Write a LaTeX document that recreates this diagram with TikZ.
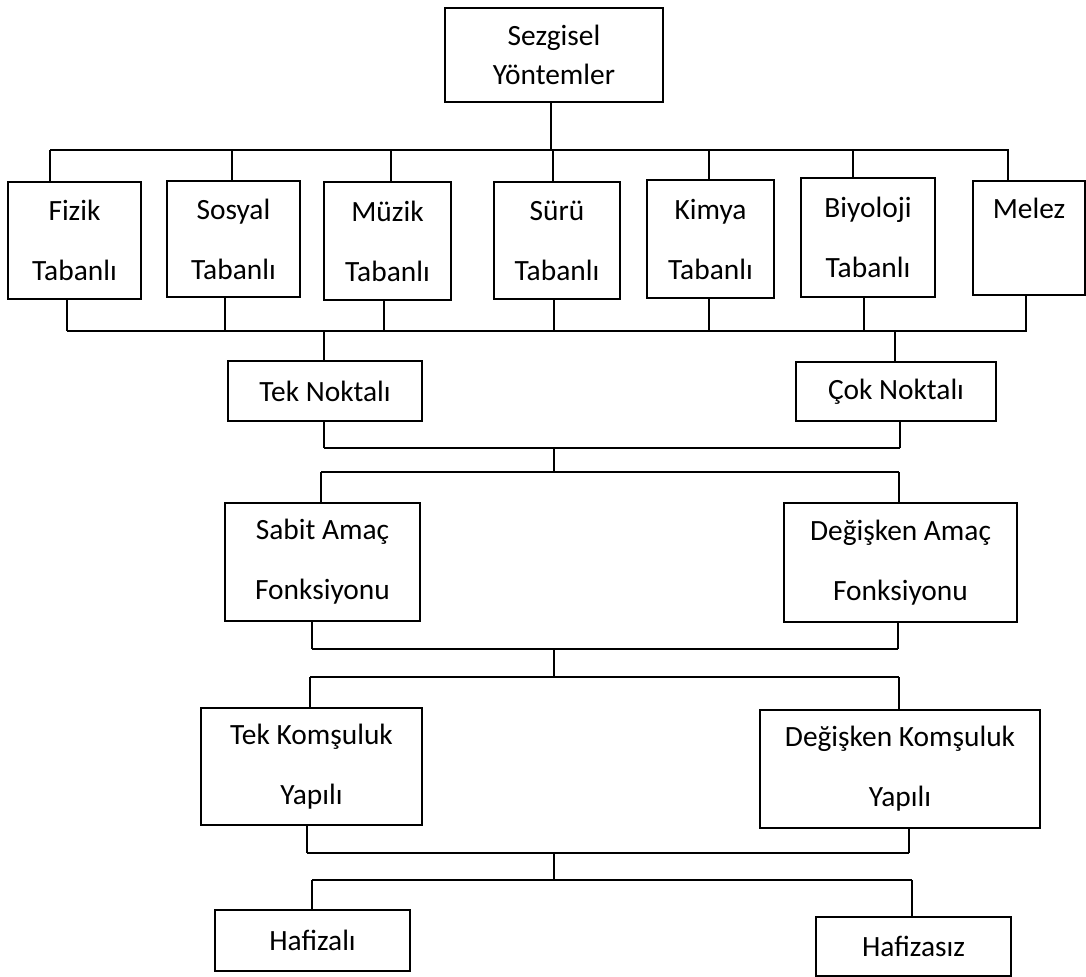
\documentclass[tikz,border=0pt]{standalone}
\usepackage{fontspec}
\setmainfont{Carlito}
\begin{document}
\begin{tikzpicture}[x=0.5pt,y=-0.5pt,
  box/.style={draw,line width=0.9pt,inner sep=0pt,align=center,
    font=\fontsize{14.7}{30}\selectfont},
  sz/.style 2 args={minimum width=#1*0.5pt,minimum height=#2*0.5pt},
  link/.style={line width=0.7pt},
  bar/.style={line width=1.2pt}]
\useasboundingbox (0,0) rectangle (1086,976);

% --- boxes ---
\node[box,sz={218}{94},font=\fontsize{14.7}{19.5}\selectfont]
  (top) at (554,55) {Sezgisel\\Yöntemler};
\node[box,sz={133}{117}] (fizik)    at (74.5,240.5) {Fizik\\Tabanlı};
\node[box,sz={133}{116}] (sosyal)   at (233.5,239)  {Sosyal\\Tabanlı};
\node[box,sz={127}{118}] (muzik)    at (387.5,241)  {Müzik\\Tabanlı};
\node[box,sz={126}{117}] (suru)     at (557,240.5)  {Sürü\\Tabanlı};
\node[box,sz={127}{118}] (kimya)    at (710.5,239)  {Kimya\\Tabanlı};
\node[box,sz={134}{119}] (biyoloji) at (868,237.5)  {Biyoloji\\Tabanlı};
\node[box,sz={112}{114}] (melez)    at (1029,238)   {Melez\\\phantom{Tabanlı}};

\node[box,sz={194}{60}] (tekn) at (325,391)   {Tek Noktalı};
\node[box,sz={200}{59}] (cokn) at (896,391.5) {Çok Noktalı};

\node[box,sz={195}{118}] (sabit)   at (322.5,562) {Sabit Amaç\\Fonksiyonu};
\node[box,sz={233}{119}] (degamac) at (900.5,562.5) {Değişken Amaç\\Fonksiyonu};

\node[box,sz={221}{117}] (tekkom) at (311.5,766.5) {Tek Komşuluk\\Yapılı};
\node[box,sz={280}{118}] (degkom) at (900,769)     {Değişken Komşuluk\\Yapılı};

\node[box,sz={195}{61}] (hafizali)  at (312.5,940.5) {Hafizalı};
\node[box,sz={195}{59}] (hafizasiz) at (913.5,946.5) {Hafizasız};

% --- top level bus ---
\coordinate (a0) at (551,150);
\draw[link] (a0 |- top.south) -- (a0);
\draw[bar] (50,150) -- (1009,150);
\foreach \x/\n in {50/fizik,232/sosyal,391/muzik,553/suru,709/kimya,853/biyoloji,1008/melez}
  \draw[link] (\x,150) -- ({\x},0 |- \n.north);

% --- gathering bus below the families ---
\draw[bar] (67,331) -- (1027,331);
\foreach \x/\n in {67/fizik,225/sosyal,384/muzik,554/suru,709/kimya,864/biyoloji,1026/melez}
  \draw[link] (\n.south -| {\x},0) -- (\x,331);
\draw[link] (324,331) -- (324,0 |- tekn.north);
\draw[link] (895,331) -- (895,0 |- cokn.north);

% --- single / multi point -> objective ---
\draw[bar] (324,448) -- (900,448);
\draw[link] (tekn.south -| 324,0) -- (324,448);
\draw[link] (cokn.south -| 900,0) -- (900,448);
\draw[link] (554,448) -- (554,472);
\draw[bar] (321,472) -- (899,472);
\draw[link] (321,472) -- (321,0 |- sabit.north);
\draw[link] (899,472) -- (899,0 |- degamac.north);

% --- objective -> neighbourhood ---
\draw[bar] (312,649) -- (898,649);
\draw[link] (sabit.south -| 312,0) -- (312,649);
\draw[link] (degamac.south -| 898,0) -- (898,649);
\draw[link] (554,649) -- (554,677);
\draw[bar] (310,677) -- (899,677);
\draw[link] (310,677) -- (310,0 |- tekkom.north);
\draw[link] (899,677) -- (899,0 |- degkom.north);

% --- neighbourhood -> memory ---
\draw[bar] (307,853) -- (909,853);
\draw[link] (tekkom.south -| 307,0) -- (307,853);
\draw[link] (degkom.south -| 909,0) -- (909,853);
\draw[link] (554,853) -- (554,880);
\draw[bar] (312,880) -- (912,880);
\draw[link] (312,880) -- (312,0 |- hafizali.north);
\draw[link] (912,880) -- (912,0 |- hafizasiz.north);
\end{tikzpicture}
\end{document}
